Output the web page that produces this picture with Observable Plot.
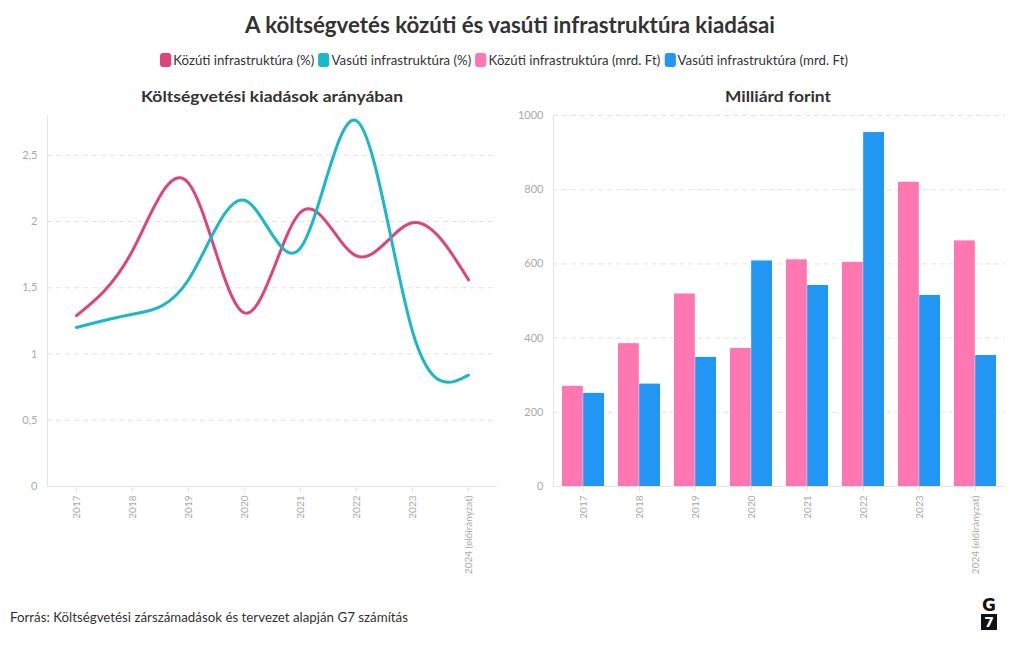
<!DOCTYPE html>
<html><head><meta charset="utf-8">
<script src="https://cdn.jsdelivr.net/npm/d3@7"></script>
<script src="https://cdn.jsdelivr.net/npm/@observablehq/plot@0.6"></script>
<style>
body{margin:0;background:#fff;font-family:Lato,"Open Sans",sans-serif;color:#333;}
#wrap{position:relative;width:1020px;height:650px;overflow:hidden;}
.fit{position:absolute;white-space:nowrap;transform-origin:0 50%;}
#title{font-weight:700;font-size:22px;color:#333;}
.sub{font-weight:700;font-size:16px;color:#333;}
#legend{display:flex;align-items:center;font-size:13px;color:#333;}
#legend .it{display:flex;align-items:center;margin-right:4px;}
#legend .sw{width:11px;height:14px;border-radius:3px;margin-right:2px;}
#source{font-size:13px;color:#333;}
#left,#right{position:absolute;top:105px;}
#left{left:0;}#right{left:500px;}
#logo{position:absolute;left:981px;top:597px;width:16px;font-family:"DejaVu Sans",sans-serif;font-weight:700;text-align:center;}
#logo .g{font-size:17px;line-height:16px;color:#111;}
#logo .s{background:#111;color:#fff;font-size:14px;line-height:16px;height:16px;margin-top:1px;}
</style></head><body>
<div id="wrap">
  <div id="title" class="fit">A költségvetés közúti és vasúti infrastruktúra kiadásai</div>
  <div id="legend" class="fit"></div>
  <div id="sub1" class="fit sub">Költségvetési kiadások arányában</div>
  <div id="sub2" class="fit sub">Milliárd forint</div>
  <div id="left"></div>
  <div id="right"></div>
  <div id="source" class="fit">Forrás: Költségvetési zárszámadások és tervezet alapján G7 számítás</div>
  <div id="logo"><div class="g">G</div><div class="s">7</div></div>
</div>
<script>
// ---- data ----
const years = ["2017","2018","2019","2020","2021","2022","2023","2024 (előirányzat)"];
const roadPct = [1.29, 1.78, 2.29, 1.31, 2.07, 1.74, 1.99, 1.56];
const railPct = [1.20, 1.30, 1.56, 2.16, 1.80, 2.76, 1.17, 0.84];
const roadBn  = [270, 385, 519, 372, 611, 604, 820, 662];
const railBn  = [251, 276, 348, 608, 542, 954, 515, 353];
const seriesNames = ["Közúti infrastruktúra (%)","Vasúti infrastruktúra (%)","Közúti infrastruktúra (mrd. Ft)","Vasúti infrastruktúra (mrd. Ft)"];
const seriesColors = ["#e0437b","#19b8cb","#ff77b0","#2196f3"];
const pctTicks = [0, 0.5, 1, 1.5, 2, 2.5];
const bnTicks = [0, 200, 400, 600, 800, 1000];

// ---- legend ----
const leg = document.getElementById("legend");
seriesNames.forEach((n,i)=>{
  const it = document.createElement("div"); it.className="it";
  const sw = document.createElement("div"); sw.className="sw"; sw.style.background=seriesColors[i];
  const t = document.createElement("span"); t.textContent=n;
  it.appendChild(sw); it.appendChild(t); leg.appendChild(it);
});

// ---- fit texts to reference extents ----
function fit(id, x0, x1, yc){
  const el = document.getElementById(id);
  const w = el.getBoundingClientRect().width, h = el.getBoundingClientRect().height;
  const s = (x1-x0)/w;
  el.style.left = x0+"px"; el.style.top = (yc-h/2)+"px";
  el.style.transform = `scaleX(${s})`;
}
fit("title",245,775,24);
fit("legend",160,852,60);
fit("sub1",141,403,95);
fit("sub2",725,831,95);
fit("source",10,408,617);

const grid = "#e3e3e3", axisCol = "#e6e6e6", tickTxt = "#aaaaaa";
const fmt = d => String(d).replace(".", ",");

// ---- left: line chart ----
const lineData = [];
years.forEach((y,i)=>{
  lineData.push({year:y, value:roadPct[i], series:seriesNames[0]});
  lineData.push({year:y, value:railPct[i], series:seriesNames[1]});
});
const left = Plot.plot({
  width:500, height:481, marginLeft:47, marginRight:3, marginTop:10, marginBottom:100,
  style:{fontFamily:"Lato, sans-serif", fontSize:"11px", color:tickTxt, background:"transparent", overflow:"visible"},
  x:{type:"point", domain:years, padding:0.5, label:null},
  y:{domain:[0,2.8], label:null},
  color:{domain:seriesNames, range:seriesColors},
  marks:[
    Plot.gridY(pctTicks.slice(1), {stroke:grid, strokeOpacity:1, strokeDasharray:"5,4"}),
    Plot.frame({anchor:"left", stroke:axisCol}),
    Plot.ruleY([0], {stroke:axisCol}),
    Plot.axisX({tickRotate:-90, tickSize:5, tickPadding:4, stroke:axisCol, fill:tickTxt, fontSize:10, label:null}),
    Plot.axisY({ticks:pctTicks, tickFormat:fmt, tickSize:0, tickPadding:10, fill:tickTxt, fontSize:11, label:null}),
    Plot.line(lineData, {x:"year", y:"value", stroke:"series", z:"series", curve:"natural", strokeWidth:3})
  ]
});
document.getElementById("left").appendChild(left);

// ---- right: grouped bars ----
const W = 520, ML = 53, MR = 15, pIn = 0.25, pOut = 0.125;
const step = (W-ML-MR)/(years.length - pIn + 2*pOut);
const half = step*(1-pIn)/2;
const roadData = years.map((y,i)=>({year:y, value:roadBn[i]}));
const railData = years.map((y,i)=>({year:y, value:railBn[i]}));
const right = Plot.plot({
  width:W, height:481, marginLeft:ML, marginRight:MR, marginTop:10, marginBottom:100,
  style:{fontFamily:"Lato, sans-serif", fontSize:"11px", color:tickTxt, background:"transparent", overflow:"visible"},
  x:{type:"band", domain:years, paddingInner:pIn, paddingOuter:pOut, label:null},
  y:{domain:[0,1000], label:null},
  marks:[
    Plot.gridY(bnTicks.slice(1), {stroke:grid, strokeOpacity:1, strokeDasharray:"5,4"}),
    Plot.frame({anchor:"left", stroke:axisCol}),
    Plot.barY(roadData, {x:"year", y:"value", fill:seriesColors[2], insetRight:half}),
    Plot.barY(railData, {x:"year", y:"value", fill:seriesColors[3], insetLeft:half}),
    Plot.ruleY([0], {stroke:axisCol}),
    Plot.axisX({tickRotate:-90, tickSize:5, tickPadding:4, stroke:axisCol, fill:tickTxt, fontSize:10, label:null}),
    Plot.axisY({ticks:bnTicks, tickFormat:d=>String(d), tickSize:0, tickPadding:10, fill:tickTxt, fontSize:11, label:null})
  ]
});
document.getElementById("right").appendChild(right);
</script>
</body></html>
